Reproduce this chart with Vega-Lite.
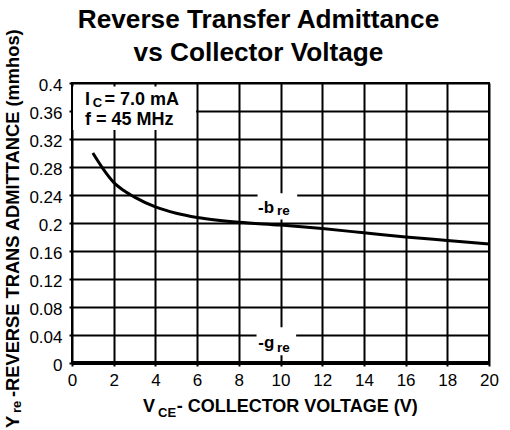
{
  "$schema": "https://vega.github.io/schema/vega-lite/v6.json",
  "width": 417,
  "height": 280,
  "autosize": {"type": "none"},
  "padding": {"left": 72, "top": 83, "right": 21, "bottom": 67},
  "title": {
    "text": ["Reverse Transfer Admittance", "vs Collector Voltage"],
    "font": "Liberation Sans",
    "fontSize": 26.2,
    "fontWeight": "bold",
    "color": "black",
    "anchor": "middle",
    "frame": "group",
    "dx": -22,
    "dy": 59,
    "baseline": "alphabetic",
    "lineHeight": 33,
    "offset": 0
  },
  "config": {
    "view": {"stroke": "black", "strokeWidth": 2},
    "axis": {
      "grid": true,
      "gridColor": "black",
      "gridWidth": 2,
      "gridOpacity": 1,
      "domain": false,
      "ticks": true,
      "tickColor": "black",
      "tickSize": 3,
      "tickWidth": 2,
      "labelFont": "Liberation Sans",
      "labelFontSize": 17,
      "labelColor": "black",
      "labelFlush": false,
      "labelOverlap": false,
      "labelBound": false,
      "title": null
    }
  },
  "datasets": {
    "curve": [
      {"x": 1, "y": 0.300}, {"x": 1.5, "y": 0.277}, {"x": 2, "y": 0.258},
      {"x": 2.5, "y": 0.246}, {"x": 3, "y": 0.237}, {"x": 4, "y": 0.223},
      {"x": 5, "y": 0.214}, {"x": 6, "y": 0.208}, {"x": 7, "y": 0.204},
      {"x": 8, "y": 0.201}, {"x": 10, "y": 0.197}, {"x": 12, "y": 0.192},
      {"x": 14, "y": 0.186}, {"x": 16, "y": 0.180}, {"x": 18, "y": 0.175},
      {"x": 20, "y": 0.170}
    ],
    "gre": [{"x": 0, "y": 0}, {"x": 20, "y": 0}],
    "boxes": [
      {"x": 0.05, "x2": 5.95, "y": 0.333, "y2": 0.395},
      {"x": 8.9, "x2": 10.8, "y": 0.205, "y2": 0.2425},
      {"x": 8.85, "x2": 10.75, "y": 0.011, "y2": 0.051}
    ],
    "bigText": [
      {"x": 0.62, "y": 0.3686, "t": "I"},
      {"x": 1.56, "y": 0.3686, "t": "= 7.0 mA"},
      {"x": 0.62, "y": 0.3400, "t": "f = 45 MHz"},
      {"x": 3.405, "y": -0.0696, "t": "V"},
      {"x": 5.02, "y": -0.0696, "t": "- COLLECTOR VOLTAGE (V)"}
    ],
    "subText": [
      {"x": 0.99, "y": 0.3657, "t": "C"},
      {"x": 4.125, "y": -0.0767, "t": "CE"}
    ],
    "lblText": [
      {"x": 8.92, "y": 0.2139, "t": "-b"},
      {"x": 8.935, "y": 0.021, "t": "-g"}
    ],
    "lblSub": [
      {"x": 9.83, "y": 0.2114, "t": "re"},
      {"x": 9.83, "y": 0.016, "t": "re"}
    ],
    "yTitle": [
      {"x": -2.528, "y": -0.0929, "t": "Y"},
      {"x": -2.528, "y": -0.0486, "t": "-REVERSE TRANS ADMITTANCE (mmhos)"}
    ],
    "yTitleSub": [
      {"x": -2.46, "y": -0.0714, "t": "re"}
    ]
  },
  "encoding": {
    "x": {
      "field": "x", "type": "quantitative",
      "scale": {"domain": [0, 20], "nice": false, "zero": false},
      "axis": {"values": [0, 2, 4, 6, 8, 10, 12, 14, 16, 18, 20], "labelPadding": 6}
    },
    "y": {
      "field": "y", "type": "quantitative",
      "scale": {"domain": [0, 0.4], "nice": false, "zero": false},
      "axis": {"values": [0, 0.04, 0.08, 0.12, 0.16, 0.2, 0.24, 0.28, 0.32, 0.36, 0.4], "format": ".2~f", "labelPadding": 7, "labelOffset": 2}
    }
  },
  "layer": [
    {
      "data": {"name": "boxes"},
      "mark": {"type": "rect", "fill": "white", "stroke": null},
      "encoding": {"x2": {"field": "x2"}, "y2": {"field": "y2"}}
    },
    {
      "data": {"name": "gre"},
      "mark": {"type": "line", "color": "black", "strokeWidth": 4},
      "encoding": {}
    },
    {
      "data": {"name": "curve"},
      "mark": {"type": "line", "color": "black", "strokeWidth": 3, "interpolate": "monotone"},
      "encoding": {}
    },
    {
      "data": {"name": "bigText"},
      "mark": {"type": "text", "font": "Liberation Sans", "fontSize": 18, "fontWeight": "bold", "color": "black", "align": "left", "baseline": "alphabetic"},
      "encoding": {"text": {"field": "t"}}
    },
    {
      "data": {"name": "subText"},
      "mark": {"type": "text", "font": "Liberation Sans", "fontSize": 13, "fontWeight": "bold", "color": "black", "align": "left", "baseline": "alphabetic"},
      "encoding": {"text": {"field": "t"}}
    },
    {
      "data": {"name": "lblText"},
      "mark": {"type": "text", "font": "Liberation Sans", "fontSize": 17, "fontWeight": "bold", "color": "black", "align": "left", "baseline": "alphabetic"},
      "encoding": {"text": {"field": "t"}}
    },
    {
      "data": {"name": "lblSub"},
      "mark": {"type": "text", "font": "Liberation Sans", "fontSize": 13.5, "fontWeight": "bold", "color": "black", "align": "left", "baseline": "alphabetic"},
      "encoding": {"text": {"field": "t"}}
    },
    {
      "data": {"name": "yTitle"},
      "mark": {"type": "text", "font": "Liberation Sans", "fontSize": 18.3, "fontWeight": "bold", "color": "black", "align": "left", "baseline": "alphabetic", "angle": -90},
      "encoding": {"text": {"field": "t"}}
    },
    {
      "data": {"name": "yTitleSub"},
      "mark": {"type": "text", "font": "Liberation Sans", "fontSize": 13, "fontWeight": "bold", "color": "black", "align": "left", "baseline": "alphabetic", "angle": -90},
      "encoding": {"text": {"field": "t"}}
    }
  ]
}
